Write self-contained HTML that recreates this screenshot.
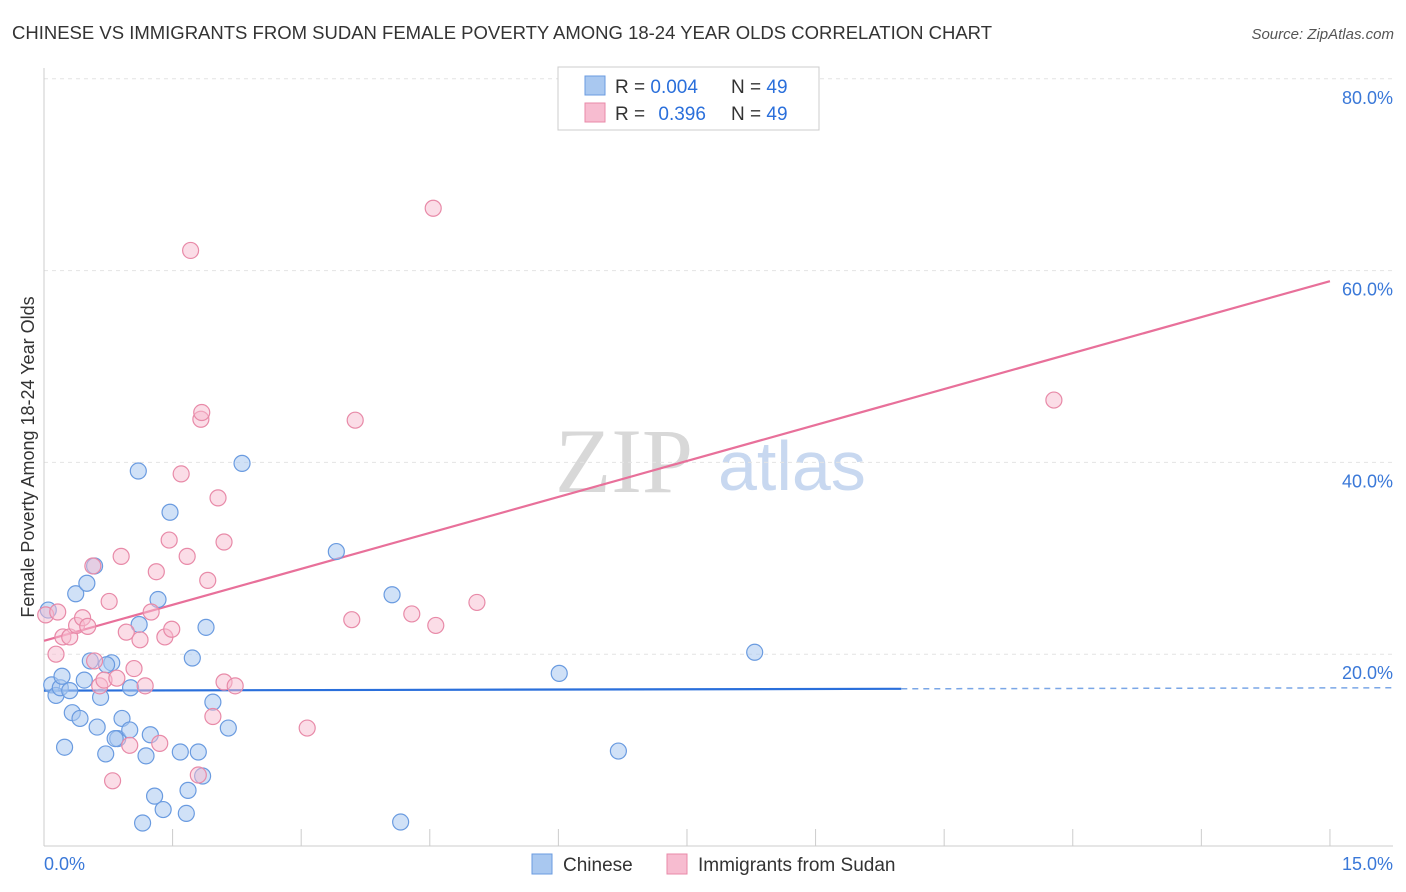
<!DOCTYPE html>
<html><head><meta charset="utf-8">
<style>
body{margin:0;background:#fff;font-family:"Liberation Sans",sans-serif;}
#wrap{position:relative;width:1406px;height:892px;overflow:hidden;}
</style></head>
<body>
<div id="wrap">
<svg id="chart" width="1406" height="892" xmlns="http://www.w3.org/2000/svg">
<text x="12" y="39" font-size="18.5" fill="#333">CHINESE VS IMMIGRANTS FROM SUDAN FEMALE POVERTY AMONG 18-24 YEAR OLDS CORRELATION CHART</text>
<text x="1394" y="39" font-size="15" fill="#555" font-style="italic" text-anchor="end">Source: ZipAtlas.com</text>
<text transform="translate(34,457) rotate(-90)" font-size="18" fill="#333" text-anchor="middle">Female Poverty Among 18-24 Year Olds</text>
<text x="555" y="492" font-size="92" fill="#d8d8d8" font-family="Liberation Serif,serif">ZIP</text>
<text x="718" y="490" font-size="70" fill="#c8d8f0">atlas</text>
<g id="grid"></g><g id="axes"></g><g id="lines"></g><g id="pts"></g>
<g>
<rect x="558" y="67" width="261" height="63" fill="#fff" stroke="#ccc"/>
<rect x="585" y="76" width="20" height="19" fill="#a9c8f0" stroke="#6a9be0"/>
<rect x="585" y="103" width="20" height="19" fill="#f7bcd0" stroke="#e88aa8"/>
<text x="615" y="93" font-size="19" fill="#333">R = <tspan fill="#2a6fdb">0.004</tspan></text>
<text x="731" y="93" font-size="19" fill="#333">N = <tspan fill="#2a6fdb">49</tspan></text>
<text x="615" y="120" font-size="19" fill="#333">R = <tspan fill="#2a6fdb" dx="8">0.396</tspan></text>
<text x="731" y="120" font-size="19" fill="#333">N = <tspan fill="#2a6fdb">49</tspan></text>
</g>
<g>
<rect x="532" y="854" width="20" height="20" fill="#a9c8f0" stroke="#6a9be0"/>
<text x="563" y="871" font-size="19" fill="#333">Chinese</text>
<rect x="667" y="854" width="20" height="20" fill="#f7bcd0" stroke="#e88aa8"/>
<text x="698" y="871" font-size="19" fill="#333">Immigrants from Sudan</text>
</g>
</svg>
</div>
<script>
const blueX=[.09,.14,.19,.30,.21,.37,.50,.59,.33,.42,.24,.54,.47,.66,.62,.79,.73,.72,.86,.83,.91,1.00,1.01,1.11,1.10,1.33,1.24,1.19,1.47,1.73,1.89,1.59,1.80,1.97,2.15,1.85,1.68,1.29,1.39,1.66,1.15,2.31,3.41,4.06,4.16,6.01,6.70,8.29,.05];
const blueY=[16.8,15.7,16.5,16.2,17.7,26.3,27.4,29.2,13.9,13.3,10.3,19.3,17.3,15.5,12.4,19.1,18.9,9.6,11.2,11.2,13.3,12.1,16.5,23.1,39.1,25.7,11.6,9.4,34.8,19.6,22.8,9.8,9.8,15.0,12.3,7.3,5.8,5.2,3.8,3.4,2.4,39.9,30.7,26.2,2.5,18.0,9.9,20.2,24.6];
const pinkX=[.02,.16,.22,.30,.14,.38,.45,.57,.59,.65,.70,.76,.85,.90,.96,1.05,1.12,1.18,1.25,1.31,1.35,1.41,1.46,1.49,1.60,1.67,1.71,1.83,1.84,1.91,1.97,2.03,2.10,2.10,2.23,1.80,.80,1.00,3.07,3.63,3.59,4.29,4.57,4.54,5.05,11.78,.51];
const pinkY=[24.1,24.4,21.8,21.8,20.0,23.0,23.8,29.2,19.3,16.7,17.3,25.5,17.5,30.2,22.3,18.5,21.5,16.7,24.4,28.6,10.7,21.8,31.9,22.6,38.8,30.2,62.1,44.5,45.2,27.7,13.5,36.3,31.7,17.1,16.7,7.4,6.8,10.5,12.3,44.4,23.6,24.2,23.0,66.5,25.4,46.5,22.9];
const yTicks=[20,40,60,80];
const blueTrend=[16.2,16.5];
const pinkTrend=[21.4,58.9];
const NS="http://www.w3.org/2000/svg";
const X=v=>44+v*85.73, Y=v=>846-v*9.59;
function mk(t,a,p){const e=document.createElementNS(NS,t);for(const k in a)e.setAttribute(k,a[k]);p.appendChild(e);return e;}
const grid=document.getElementById('grid'),axes=document.getElementById('axes'),lines=document.getElementById('lines'),pts=document.getElementById('pts');
yTicks.forEach(t=>{
 const l=mk('line',{x1:44,x2:1393,y1:Y(t),y2:Y(t),stroke:'#e4e4e4','stroke-dasharray':'4,4'},grid);
 
 
 const tx=mk('text',{x:1393,y:Y(t)+25,'font-size':18,fill:'#3a78d8','text-anchor':'end'},axes);
 tx.textContent=t.toFixed(1)+'%';
 
 
});
mk('line',{x1:44,x2:44,y1:68,y2:846,stroke:'#ccc'},axes);
mk('line',{x1:44,x2:1393,y1:846,y2:846,stroke:'#ccc'},axes);
for(let i=0;i<=10;i++){const t=mk('line',{x1:X(i*1.5),x2:X(i*1.5),y1:829,y2:846,stroke:'#ccc'},axes);
 
 }
let a=mk('text',{x:44,y:870,'font-size':18,fill:'#3a78d8'},axes);a.textContent='0.0%';


a=mk('text',{x:1393,y:870,'font-size':18,fill:'#3a78d8','text-anchor':'end'},axes);a.textContent='15.0%';


blueX.forEach((x,i)=>{const c=mk('circle',{cx:X(x),cy:Y(blueY[i]),r:8,fill:'rgba(169,200,240,0.55)',stroke:'#6a9be0','stroke-width':1.2},pts);
 
 });
pinkX.forEach((x,i)=>{const c=mk('circle',{cx:X(x),cy:Y(pinkY[i]),r:8,fill:'rgba(247,188,208,0.5)',stroke:'#e88aa8','stroke-width':1.2},pts);
 
 });
const bAt=v=>blueTrend[0]+(blueTrend[1]-blueTrend[0])*v/15.7;
let l=mk('line',{x1:X(0),y1:Y(bAt(0)),x2:X(10),y2:Y(bAt(10)),stroke:'#2a6fdb','stroke-width':2.2},lines);


l=mk('line',{x1:X(10),y1:Y(bAt(10)),x2:1393,y2:Y(bAt(15.7)),stroke:'#7aa6e6','stroke-width':1.5,'stroke-dasharray':'6,5'},lines);


l=mk('line',{x1:X(0),y1:Y(pinkTrend[0]),x2:X(15),y2:Y(pinkTrend[1]),stroke:'#e8709a','stroke-width':2.2},lines);


</script>
</body></html>
